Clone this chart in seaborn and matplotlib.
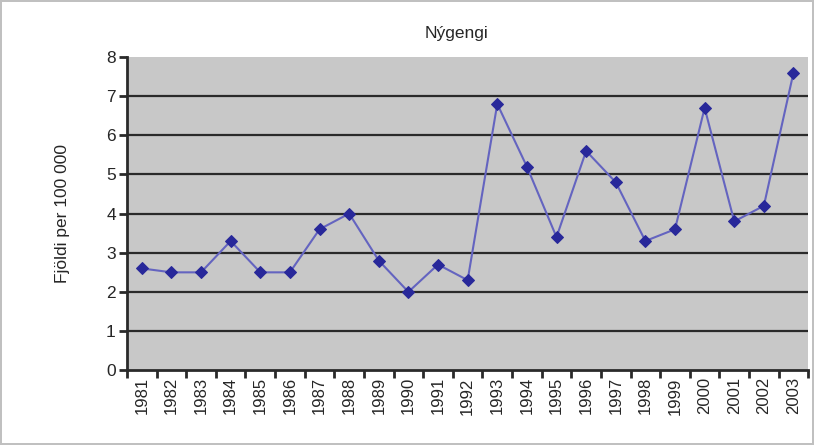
import numpy as np
import pandas as pd
import matplotlib
matplotlib.use('Agg')
from matplotlib import pyplot as plt
import seaborn as sns

years = [str(y) for y in range(1981, 2004)]
values = [2.6, 2.5, 2.5, 3.3, 2.5, 2.5, 3.6, 4.0, 2.8, 2.0, 2.7, 2.3,
          6.8, 5.2, 3.4, 5.6, 4.8, 3.3, 3.6, 6.7, 3.8, 4.2, 7.6]
title = 'Nýgengi'
ylabel = 'Fjöldi per 100 000'

df = pd.DataFrame({'year': years, 'value': values})

sns.set_style('white')
plt.rcParams['font.family'] = ['Liberation Sans', 'DejaVu Sans']

fig = plt.figure(figsize=(8.14, 4.45), dpi=100)
fig.patch.set_edgecolor('#c0c0c0')
fig.patch.set_linewidth(1.5)
ax = fig.add_axes([0.156, 0.168, 0.837, 0.704])
ax.set_facecolor('#c8c8c8')

for y in range(1, 8):
    ax.axhline(y, color='#2a2a2a', lw=1.6, zorder=1)

sns.lineplot(data=df, x='year', y='value', ax=ax, color='#6464c0', lw=1.5,
             marker='D', markersize=6, markerfacecolor='#28289a',
             markeredgecolor='#28289a', zorder=3)

ax.set_xlim(-0.5, len(years) - 0.5)
ax.set_ylim(0, 8)
ax.set_yticks(range(0, 9))
ax.set_xticks(range(len(years)))
ax.set_xticklabels(years, rotation=90)
ax.set_xticks(np.arange(-0.5, len(years), 1.0), minor=True)
ax.tick_params(axis='x', which='major', length=0, pad=5, labelsize=12)
ax.tick_params(axis='x', which='minor', length=6, width=2, color='#2a2a2a', direction='out', bottom=True)
ax.tick_params(axis='y', length=6, width=2, color='#2a2a2a', direction='out', left=True, labelsize=12.5, pad=2)

for s in ['top', 'right']:
    ax.spines[s].set_visible(False)
ax.spines['left'].set_color('#2a2a2a')
ax.spines['left'].set_linewidth(2)
ax.spines['bottom'].set_color('#2a2a2a')
ax.spines['bottom'].set_linewidth(2)

ax.set_xlabel('')
ax.set_ylabel(ylabel, fontsize=12.5, labelpad=26)
fig.text(0.561, 0.925, title, ha='center', va='center', fontsize=12.5)

fig.savefig('out.png', dpi=100)
